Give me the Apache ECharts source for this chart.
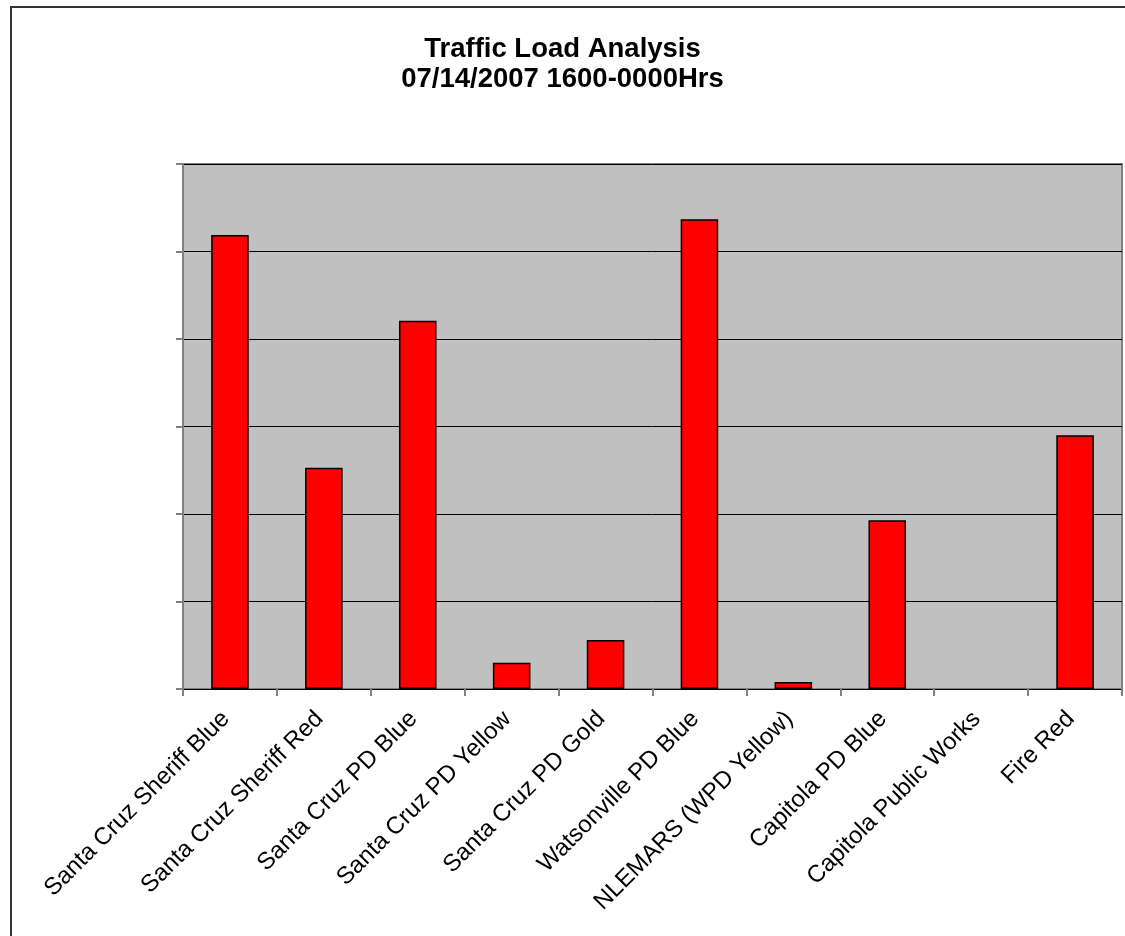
<!DOCTYPE html>
<html>
<head>
<meta charset="utf-8">
<script src="https://cdn.jsdelivr.net/npm/echarts@6/dist/echarts.min.js"></script>
<style>
html,body{margin:0;padding:0;background:#fff;}
#chart{width:1125px;height:936px;}
</style>
</head>
<body>
<div id="chart"></div>
<script>
var titleLines = ['Traffic Load Analysis', '07/14/2007 1600-0000Hrs'];
var categories = ['Santa Cruz Sheriff Blue','Santa Cruz Sheriff Red','Santa Cruz PD Blue','Santa Cruz PD Yellow','Santa Cruz PD Gold','Watsonville PD Blue','NLEMARS (WPD Yellow)','Capitola PD Blue','Capitola Public Works','Fire Red'];
var loads = [51.9, 25.3, 42.1, 3.0, 5.6, 53.7, 0.8, 19.3, 0, 29.0];

var chart = echarts.init(document.getElementById('chart'));
chart.setOption({
  backgroundColor: '#ffffff',
  animation: false,
  graphic: [{
    type: 'rect', shape: {x: 11, y: 7, width: 1130, height: 950},
    style: {fill: 'none', stroke: '#333', lineWidth: 2}, silent: true
  }],
  title: {
    text: titleLines.join('\n'),
    left: 'center', top: 34, padding: [0, 0, 0, 10],
    textStyle: {fontFamily: 'Liberation Sans, Arial, sans-serif', fontSize: 27.5, fontWeight: 'bold', color: '#000', lineHeight: 30}
  },
  grid: {left: 183, top: 164, right: 3, bottom: 247, show: true, backgroundColor: '#c0c0c0', borderColor: '#808080', borderWidth: 2},
  xAxis: {
    type: 'category', data: categories,
    axisLine: {lineStyle: {color: '#000', width: 1}},
    axisTick: {show: true, alignWithLabel: false, length: 7, lineStyle: {color: '#808080', width: 2}},
    axisLabel: {rotate: 45, interval: 0, margin: 22, padding: [0, 6, 0, 0], color: '#000', fontFamily: 'Liberation Sans, Arial, sans-serif', fontSize: 24}
  },
  yAxis: {
    type: 'value', min: 0, max: 60, interval: 10,
    axisLabel: {show: false},
    axisLine: {show: true, lineStyle: {color: '#808080', width: 2}},
    axisTick: {show: true, length: 7, lineStyle: {color: '#808080', width: 2}},
    splitLine: {show: true, lineStyle: {color: '#000', width: 1}}
  },
  series: [{
    type: 'bar', barWidth: '40%',
    data: loads.map(function (v) { return v === 0 ? {value: v, itemStyle: {borderWidth: 0}} : v; }),
    itemStyle: {color: '#ff0000', borderColor: '#000', borderWidth: 1.5}
  }]
});
</script>
</body>
</html>
